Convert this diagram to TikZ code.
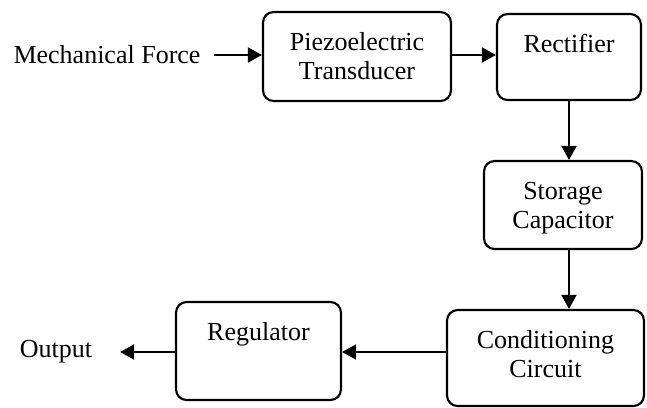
\documentclass[tikz,border=0pt]{standalone}
\usepackage{fontspec}
\setmainfont{Liberation Serif}
\usetikzlibrary{arrows.meta}
\begin{document}
\begin{tikzpicture}%
	[	x={(0.020000cm, 0.000000cm)},
	y={(0.000000cm, -0.020000cm)},
	font=\fontsize{14.8}{16.6}\selectfont,
	block/.style={draw=black, line width=1.2pt, rounded corners=6pt, inner xsep=0pt, inner ysep=0pt, align=center, text height=0.76cm},
	flow/.style={line width=1.2pt, -{Triangle[length=8pt, width=8.5pt]}},
	plain/.style={inner sep=0pt}]

\useasboundingbox (0,0) rectangle (647,407);

\node[block, text width=3.76cm, text depth=1.02cm] (piezo) at (357, 56.5) {Piezoelectric\\Transducer};
\node[block, text width=2.88cm, text depth=0.96cm] (rect) at (569, 57) {Rectifier};
\node[block, text width=3.16cm, text depth=1.00cm] (store) at (563, 205) {Storage\\Capacitor};
\node[block, text width=3.94cm, text depth=1.16cm] (cond) at (545.5, 358) {Conditioning\\Circuit};
\node[block, text width=3.30cm, text depth=1.20cm] (reg) at (258.5, 351) {Regulator};

\node[plain] (force) at (107, 55) {Mechanical Force};
\node[plain] (out) at (56, 352) {Output};
\coordinate (forcestart) at (214, 55);
\coordinate (outend) at (120, 352);

\draw[flow] (forcestart) -- (piezo.west |- forcestart);
\draw[flow] (piezo.east |- forcestart) -- (rect.west |- forcestart);
\draw[flow] (rect.south) -- (rect.south |- store.north);
\draw[flow] (store.south -| rect.south) -- (cond.north -| rect.south);
\draw[flow] (cond.west |- outend) -- (reg.east |- outend);
\draw[flow] (reg.west |- outend) -- (outend);
\end{tikzpicture}
\end{document}
